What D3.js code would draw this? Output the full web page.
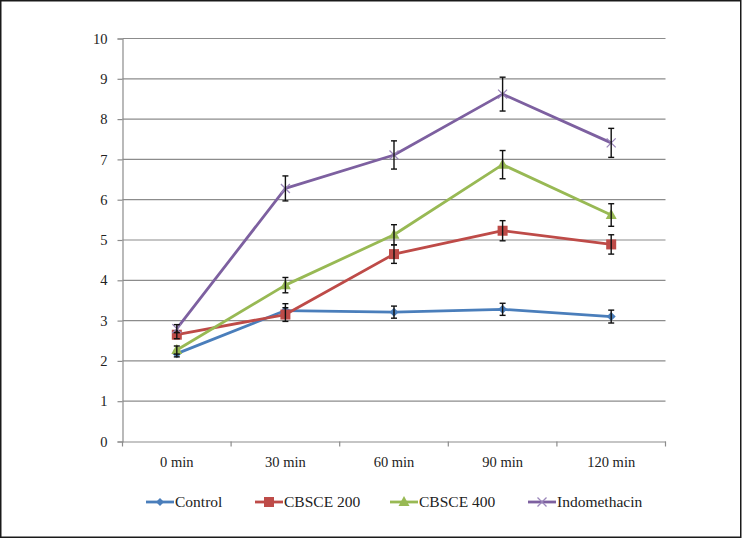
<!DOCTYPE html>
<html><head><meta charset="utf-8">
<script src="https://cdnjs.cloudflare.com/ajax/libs/d3/7.8.5/d3.min.js"></script>
<style>body{margin:0;background:#fff}svg{display:block}text{font-family:"Liberation Serif","Times New Roman",serif;fill:#222}</style>
</head><body><div id="chart"></div>
<script>
const categories = ["0 min","30 min","60 min","90 min","120 min"];
const seriesNames = ["Control","CBSCE 200","CBSCE 400","Indomethacin"];
const controlValues = [2.18, 3.25, 3.21, 3.28, 3.10];
const controlErrors = [0.08, 0.17, 0.15, 0.15, 0.16];
const cbsce200Values = [2.65, 3.15, 4.65, 5.23, 4.89];
const cbsce200Errors = [0.1, 0.17, 0.23, 0.25, 0.24];
const cbsce400Values = [2.27, 3.88, 5.13, 6.87, 5.62];
const cbsce400Errors = [0.1, 0.19, 0.25, 0.35, 0.28];
const indoValues = [2.80, 6.28, 7.11, 8.62, 7.41];
const indoErrors = [0.1, 0.31, 0.35, 0.42, 0.36];
const yTicks = [0,1,2,3,4,5,6,7,8,9,10];

const colors = ["#4A7EBB","#BE4B48","#98B954","#7D60A0"];
const markers = ["diamond","square","triangle","x"];
const series = [
  {name: seriesNames[0], values: controlValues, errors: controlErrors},
  {name: seriesNames[1], values: cbsce200Values, errors: cbsce200Errors},
  {name: seriesNames[2], values: cbsce400Values, errors: cbsce400Errors},
  {name: seriesNames[3], values: indoValues, errors: indoErrors}
];

const W = 742, H = 538;
const svg = d3.select("#chart").append("svg").attr("width", W).attr("height", H);
svg.append("rect").attr("x",0.75).attr("y",0.75).attr("width",W-2).attr("height",H-1.5)
  .attr("fill","#fff").attr("stroke","#1a1a1a").attr("stroke-width",1.5);

const mLeft = 122.5, mRight = 665.5, mTop = 38.5, mBottom = 441.5;
const x = d3.scaleBand().domain(categories).range([mLeft, mRight]);
const y = d3.scaleLinear().domain([0,10]).range([mBottom, mTop]);

// gridlines
svg.append("g").selectAll("line").data(yTicks.filter(d=>d>0)).join("line")
  .attr("x1", mLeft).attr("x2", mRight).attr("y1", d=>y(d)).attr("y2", d=>y(d))
  .attr("stroke","#8c8c8c").attr("stroke-width",1.2);

// y axis
const yAxis = svg.append("g").attr("transform",`translate(${mLeft},0)`)
  .call(d3.axisLeft(y).tickValues(yTicks).tickSize(5).tickPadding(10));
yAxis.attr("font-family", null);
yAxis.select(".domain").attr("stroke","#8c8c8c").attr("stroke-width",1.2);
yAxis.selectAll(".tick line").attr("stroke","#8c8c8c").attr("stroke-width",1.2);
yAxis.selectAll("text").attr("font-size",14.5).attr("fill","#222");

// x axis
const xAxis = svg.append("g").attr("transform",`translate(0,${mBottom})`)
  .call(d3.axisBottom(x).tickSize(0).tickPadding(15));
xAxis.attr("font-family", null);
xAxis.select(".domain").attr("stroke","#8c8c8c").attr("stroke-width",1.2);
xAxis.selectAll("text").attr("font-size",14.5).attr("fill","#222");
// category separator ticks
const sepPositions = categories.map(c => x(c)).concat([x(categories[categories.length-1]) + x.bandwidth()]);
svg.append("g").selectAll("line").data(sepPositions).join("line")
  .attr("x1", d=>d).attr("x2", d=>d).attr("y1", mBottom).attr("y2", mBottom+5)
  .attr("stroke","#8c8c8c").attr("stroke-width",1.2);

const cx = c => x(c) + x.bandwidth()/2;

function drawMarker(g, type, color, px, py, s) {
  if (type === "diamond") {
    g.append("path").attr("d", `M${px},${py-s}L${px+s},${py}L${px},${py+s}L${px-s},${py}Z`).attr("fill", color);
  } else if (type === "square") {
    g.append("rect").attr("x", px-s).attr("y", py-s).attr("width", 2*s).attr("height", 2*s).attr("fill", color);
  } else if (type === "triangle") {
    g.append("path").attr("d", `M${px},${py-s-1}L${px+s+0.5},${py+s-1}L${px-s-0.5},${py+s-1}Z`).attr("fill", color);
  } else {
    g.append("path").attr("d", `M${px-s},${py-s}L${px+s},${py+s}M${px-s},${py+s}L${px+s},${py-s}`)
      .attr("stroke", "#9B86BA").attr("stroke-width", 1.3).attr("fill","none");
  }
}

const line = d3.line().x((d,i)=>cx(categories[i])).y(d=>y(d));

series.forEach((s, si) => {
  const g = svg.append("g");
  g.append("path").datum(s.values).attr("d", line).attr("fill","none")
    .attr("stroke", colors[si]).attr("stroke-width", 2.8).attr("stroke-linejoin","round");
  s.values.forEach((v, i) => {
    const sizes = [4.5, 5, 5, 4.5];
    drawMarker(g, markers[si], colors[si], cx(categories[i]), y(v), sizes[si]);
  });
  // error bars
  s.values.forEach((v, i) => {
    const px = cx(categories[i]);
    const e = s.errors[i];
    const eg = g.append("g").attr("stroke","#111").attr("stroke-width",1.4);
    eg.append("line").attr("x1",px).attr("x2",px).attr("y1",y(v+e)).attr("y2",y(v-e));
    eg.append("line").attr("x1",px-3).attr("x2",px+3).attr("y1",y(v+e)).attr("y2",y(v+e));
    eg.append("line").attr("x1",px-3).attr("x2",px+3).attr("y1",y(v-e)).attr("y2",y(v-e));
  });
});

// legend
const legendX = [146, 255, 390, 528];
const legendY = 502;
series.forEach((s, si) => {
  const g = svg.append("g");
  const lx = legendX[si];
  g.append("line").attr("x1", lx).attr("x2", lx+28).attr("y1", legendY).attr("y2", legendY)
    .attr("stroke", colors[si]).attr("stroke-width", 2.8);
  const sizes = [4, 5, 5, 4.5];
  drawMarker(g, markers[si], colors[si], lx+14, legendY, sizes[si]);
  g.append("text").attr("x", lx+29).attr("y", legendY).attr("dy","0.35em")
    .attr("font-size", 15.5).text(s.name);
});
</script></body></html>
